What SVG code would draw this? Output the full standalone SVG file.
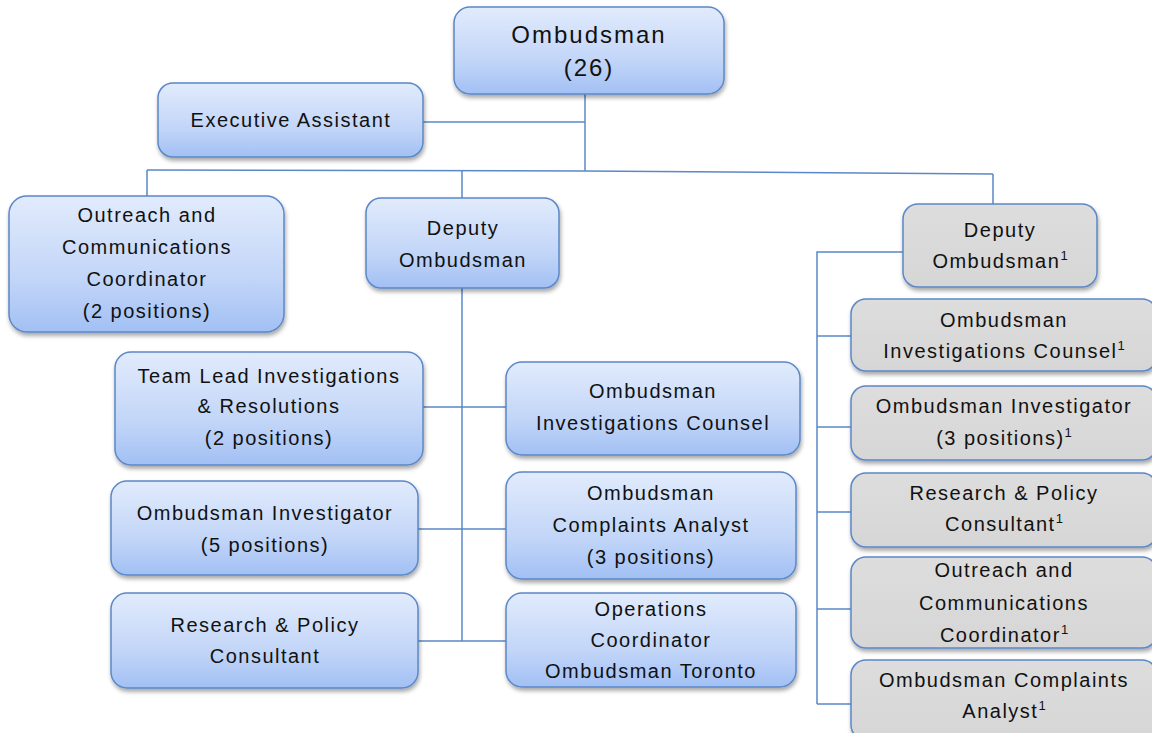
<svg xmlns="http://www.w3.org/2000/svg" width="1152" height="733" viewBox="0 0 1152 733">
<defs>
<linearGradient id="gb" x1="0" y1="0" x2="0" y2="1">
<stop offset="0" stop-color="#e1ebfc"/>
<stop offset="0.6" stop-color="#c3d6f8"/>
<stop offset="1" stop-color="#a2c0f4"/>
</linearGradient>
<linearGradient id="gg" x1="0" y1="0" x2="0" y2="1">
<stop offset="0" stop-color="#dddddd"/>
<stop offset="1" stop-color="#d6d6d6"/>
</linearGradient>
<filter id="sh" x="-10%" y="-10%" width="120%" height="130%">
<feDropShadow dx="1" dy="3" stdDeviation="2" flood-color="#000" flood-opacity="0.35"/>
</filter>
</defs>
<style>
.b{fill:url(#gb);stroke:#5b88c8;stroke-width:1.5;filter:url(#sh)}
.g{fill:url(#gg);stroke:#5b88c8;stroke-width:1.5;filter:url(#sh)}
text{font-family:"Liberation Sans",Arial,sans-serif;font-size:20px;fill:#111;text-anchor:middle;letter-spacing:1.5px}
.big{font-size:24px;letter-spacing:2px}
.sup{font-size:13px;letter-spacing:0}
.c{fill:none;stroke:#5b88c8;stroke-width:1.5}
</style>
<rect width="1152" height="733" fill="#fff"/>
<g id="connectors">
<path class="c" d="M585,94V171"/>
<path class="c" d="M423,122H585"/>
<polyline class="c" points="147,170 585,171 993,174"/>
<path class="c" d="M147,170V196M462,170.5V198M993,174V204"/>
<path class="c" d="M462,288V641"/>
<path class="c" d="M423,407H506M418,529H506M418,641H506"/>
<path class="c" d="M903,252H817V704M817,336H851M817,427H851M817,512H851M817,609H851M817,704H851"/>
</g>
<g id="ombudsman"><rect class="b" x="454" y="7" width="270" height="87" rx="16"/><text class="big" x="589" y="43">Ombudsman</text><text class="big" x="589" y="76">(26)</text></g>
<g id="exec-assistant"><rect class="b" x="158" y="83" width="265" height="74" rx="15"/><text x="291" y="127">Executive Assistant</text></g>
<g id="outreach"><rect class="b" x="9" y="196" width="275" height="136" rx="18"/><text x="147" y="222">Outreach and</text><text x="147" y="254">Communications</text><text x="147" y="286">Coordinator</text><text x="147" y="318">(2 positions)</text></g>
<g id="deputy"><rect class="b" x="366" y="198" width="193" height="90" rx="15"/><text x="463" y="235">Deputy</text><text x="463" y="267">Ombudsman</text></g>
<g id="deputy1"><rect class="g" x="903" y="204" width="194" height="83" rx="15"/><text x="1000" y="237">Deputy</text><text x="1000" y="268">Ombudsman<tspan class="sup" dy="-8">1</tspan></text></g>
<g id="inv-counsel1"><rect class="g" x="851" y="299" width="306" height="72" rx="15"/><text x="1004" y="327">Ombudsman</text><text x="1004" y="358">Investigations Counsel<tspan class="sup" dy="-8">1</tspan></text></g>
<g id="investigator1"><rect class="g" x="851" y="386" width="306" height="74" rx="15"/><text x="1004" y="413">Ombudsman Investigator</text><text x="1004" y="445">(3 positions)<tspan class="sup" dy="-8">1</tspan></text></g>
<g id="research1"><rect class="g" x="851" y="473" width="306" height="74" rx="15"/><text x="1004" y="500">Research &amp; Policy</text><text x="1004" y="531">Consultant<tspan class="sup" dy="-8">1</tspan></text></g>
<g id="outreach1"><rect class="g" x="851" y="557" width="306" height="91" rx="15"/><text x="1004" y="577">Outreach and</text><text x="1004" y="610">Communications</text><text x="1004" y="642">Coordinator<tspan class="sup" dy="-8">1</tspan></text></g>
<g id="complaints1"><rect class="g" x="851" y="660" width="306" height="80" rx="15"/><text x="1004" y="687">Ombudsman Complaints</text><text x="1004" y="718">Analyst<tspan class="sup" dy="-8">1</tspan></text></g>
<g id="team-lead"><rect class="b" x="115" y="352" width="308" height="113" rx="16"/><text x="269" y="383">Team Lead Investigations</text><text x="269" y="413">&amp; Resolutions</text><text x="269" y="445">(2 positions)</text></g>
<g id="inv-counsel"><rect class="b" x="506" y="362" width="294" height="93" rx="16"/><text x="653" y="398">Ombudsman</text><text x="653" y="430">Investigations Counsel</text></g>
<g id="investigator"><rect class="b" x="111" y="481" width="307" height="94" rx="16"/><text x="265" y="520">Ombudsman Investigator</text><text x="265" y="552">(5 positions)</text></g>
<g id="research"><rect class="b" x="111" y="593" width="307" height="95" rx="16"/><text x="265" y="632">Research &amp; Policy</text><text x="265" y="663">Consultant</text></g>
<g id="complaints"><rect class="b" x="506" y="472" width="290" height="107" rx="16"/><text x="651" y="500">Ombudsman</text><text x="651" y="532">Complaints Analyst</text><text x="651" y="564">(3 positions)</text></g>
<g id="operations"><rect class="b" x="506" y="593" width="290" height="94" rx="16"/><text x="651" y="616">Operations</text><text x="651" y="647">Coordinator</text><text x="651" y="678">Ombudsman Toronto</text></g>
</svg>
